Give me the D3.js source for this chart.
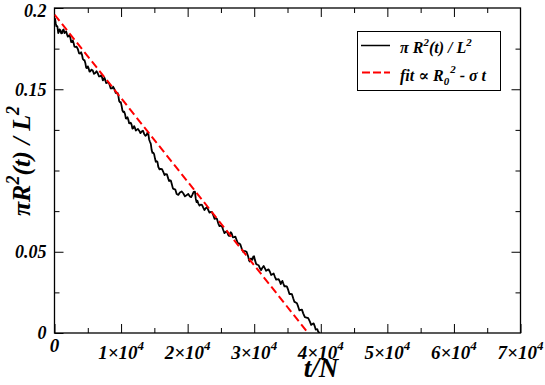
<!DOCTYPE html>
<html><head><meta charset="utf-8">
<script src="https://cdn.jsdelivr.net/npm/d3@7"></script>
<style>
body{margin:0;background:#fff}
svg{display:block}
</style>
</head><body>
<svg id="c" width="545" height="385"></svg>
<script>
// ---- data ----
const tValues = [0,95,190,282,375,438,500,565,630,755,880,1003,1126,1248,1370,1496,1622,1751,1880,2006,2132,2256,2380,2504,2628,2749,2870,2996,3123,3311,3500,3687,3874,4002,4130,4257,4384,4507,4630,4755,4880,5005,5130,5252,5375,5562,5750,5938,6126,6313,6500,6688,6877,7003,7130,7258,7387,7508,7630,7756,7883,8071,8260,8447,8634,8817,9000,9192,9384,9482,9580,9707,9835,9957,10080,10205,10330,10460,10590,10715,10841,10965,11090,11213,11336,11458,11580,11706,11832,11961,12090,12216,12342,12531,12720,12906,13093,13281,13470,13657,13844,13964,14084,14211,14339,14467,14595,14717,14840,14965,15090,15215,15340,15463,15586,15773,15960,16148,16336,16523,16710,16898,17087,17213,17340,17469,17598,17784,17970,18159,18348,18594,18840,19089,19339,19589,19840,20092,20345,20532,20720,20908,21096,21223,21351,21471,21591,21780,21970,22156,22342,22531,22720,22906,23093,23281,23470,23657,23844,24032,24220,24407,24595,24782,24970,25157,25345,25532,25720,25908,26096,26223,26350,26478,26606,26793,26980,27168,27357,27543,27730,27919,28108,28354,28600,28849,29099,29226,29354,29477,29600,29725,29850,29977,30105,30292,30480,30668,30856,31043,31230,31418,31606,31793,31980,32168,32357,32543,32730,32919,33108,33294,33480,33669,33859,33979,34100,34227,34354,34542,34730,34917,35105,35292,35480,35668,35856,36043,36230,36418,36606,36793,36980,37168,37357,37608,37860,38111,38363,38551,38740,38927,39114,39237,39360,39485,39610,39735,39860];
const rValues = [0.1935,0.1932,0.1905,0.1888,0.1890,0.1886,0.1865,0.1845,0.1850,0.1868,0.1862,0.1844,0.1845,0.1864,0.1868,0.1846,0.1850,0.1856,0.1838,0.1824,0.1830,0.1832,0.1818,0.1791,0.1790,0.1800,0.1785,0.1762,0.1760,0.1762,0.1748,0.1721,0.1720,0.1728,0.1712,0.1686,0.1680,0.1679,0.1662,0.1633,0.1630,0.1641,0.1628,0.1609,0.1610,0.1621,0.1615,0.1595,0.1600,0.1611,0.1598,0.1579,0.1580,0.1586,0.1575,0.1555,0.1560,0.1570,0.1556,0.1538,0.1540,0.1543,0.1530,0.1505,0.1505,0.1515,0.1500,0.1478,0.1475,0.1477,0.1462,0.1428,0.1420,0.1421,0.1398,0.1369,0.1360,0.1362,0.1348,0.1321,0.1320,0.1328,0.1312,0.1291,0.1290,0.1294,0.1282,0.1258,0.1260,0.1273,0.1262,0.1246,0.1250,0.1256,0.1245,0.1230,0.1240,0.1245,0.1225,0.1213,0.1220,0.1233,0.1230,0.1191,0.1177,0.1164,0.1126,0.1108,0.1110,0.1101,0.1075,0.1054,0.1058,0.1053,0.1023,0.1007,0.1010,0.1009,0.0992,0.0972,0.0978,0.0976,0.0950,0.0935,0.0940,0.0938,0.0920,0.0890,0.0885,0.0882,0.0855,0.0850,0.0865,0.0871,0.0860,0.0841,0.0848,0.0856,0.0840,0.0836,0.0852,0.0869,0.0870,0.0825,0.0805,0.0814,0.0798,0.0784,0.0790,0.0789,0.0772,0.0757,0.0768,0.0775,0.0757,0.0741,0.0745,0.0744,0.0726,0.0703,0.0705,0.0702,0.0675,0.0658,0.0660,0.0655,0.0634,0.0615,0.0622,0.0625,0.0603,0.0597,0.0610,0.0620,0.0613,0.0589,0.0590,0.0593,0.0572,0.0552,0.0552,0.0545,0.0521,0.0500,0.0505,0.0500,0.0470,0.0445,0.0440,0.0457,0.0458,0.0451,0.0470,0.0472,0.0450,0.0425,0.0420,0.0417,0.0398,0.0387,0.0402,0.0412,0.0398,0.0383,0.0388,0.0391,0.0377,0.0357,0.0362,0.0366,0.0346,0.0328,0.0330,0.0331,0.0316,0.0301,0.0312,0.0321,0.0306,0.0287,0.0288,0.0285,0.0265,0.0240,0.0240,0.0239,0.0214,0.0191,0.0188,0.0183,0.0162,0.0139,0.0142,0.0144,0.0121,0.0098,0.0095,0.0091,0.0070,0.0050,0.0055,0.0059,0.0039,0.0021,0.0022,0.0023,0.0008,0.0004,0.0000];
const fitT = [0, 38100];
const fitR = [0.196, 0];
const xMajor = [0,10000,20000,30000,40000,50000,60000,70000];
const xMinor = [5000,15000,25000,35000,45000,55000,65000];
const xTickMantissa = ["0","1","2","3","4","5","6","7"];
const yMajor = [0,0.05,0.15,0.2];
const yMinor = [0.025,0.075,0.1,0.125,0.175];
const yTickLabels = ["0","0.05","0.15","0.2"];

// ---- layout ----
const FONT = "'Liberation Serif','DejaVu Serif','Times New Roman',serif";
const svg = d3.select("#c");
const L = 54.5, R = 520.5, T = 8, B = 333;
const x = d3.scaleLinear().domain([0,70000]).range([L,R]);
const y = d3.scaleLinear().domain([0,0.2]).range([B,T]);
const MAJ = 9, MIN = 5;

function styleText(sel, size){
  return sel.style("font-family",FONT).style("font-weight","bold").style("font-style","italic")
    .style("font-size",size+"px").attr("fill","#000");
}
function axisG(axis, tx, ty){
  const g = svg.append("g").attr("transform",`translate(${tx},${ty})`).call(axis);
  g.select(".domain").remove();
  g.selectAll(".tick line").attr("stroke","#000").attr("stroke-width",1);
  return g;
}
axisG(d3.axisBottom(x).tickValues(xMajor).tickSize(-MAJ).tickFormat(""),0,B);
axisG(d3.axisBottom(x).tickValues(xMinor).tickSize(-MIN).tickFormat(""),0,B);
axisG(d3.axisTop(x).tickValues(xMajor.slice(1,-1)).tickSize(-MAJ).tickFormat(""),0,T);
axisG(d3.axisTop(x).tickValues(xMinor).tickSize(-MIN).tickFormat(""),0,T);
const yl = axisG(d3.axisLeft(y).tickValues(yMajor).tickSize(-MAJ).tickPadding(8)
  .tickFormat((d,i)=>yTickLabels[i]),L,0);
styleText(yl.selectAll(".tick text"),18);
yl.selectAll(".tick text").filter(d=>d===0.2).attr("dy","0.45em");
axisG(d3.axisLeft(y).tickValues(yMinor).tickSize(-MIN).tickFormat(""),L,0);
axisG(d3.axisRight(y).tickValues(yMajor.slice(1,-1)).tickSize(-MAJ).tickFormat(""),R,0);
axisG(d3.axisRight(y).tickValues(yMinor).tickSize(-MIN).tickFormat(""),R,0);

svg.append("rect").attr("x",L).attr("y",T).attr("width",R-L).attr("height",B-T)
  .attr("fill","none").attr("stroke","#000").attr("stroke-width",1.3);

// x tick labels
xMajor.forEach((v,i)=>{
  const t = styleText(svg.append("text").attr("x",x(v)).attr("text-anchor","middle"),19);
  if(i===0){ t.attr("y",352).text(xTickMantissa[i]); }
  else {
    t.attr("y",359);
    t.append("tspan").text(xTickMantissa[i]+"\u00D710");
    t.append("tspan").attr("dy",-9).style("font-size","13px").text("4");
  }
});

// axis titles
styleText(svg.append("text").attr("x",321).attr("y",377).attr("text-anchor","middle"),27).text("t/N");
const yt = styleText(svg.append("text").attr("transform","translate(30,161) rotate(-90)")
  .attr("text-anchor","middle"),26);
yt.append("tspan").text("\u03C0R");
yt.append("tspan").attr("dy",-11).style("font-size","18px").text("2");
yt.append("tspan").attr("dy",11).text("(t) / L");
yt.append("tspan").attr("dy",-11).style("font-size","18px").text("2");

svg.append("clipPath").attr("id","pc").append("rect").attr("x",L).attr("y",T).attr("width",R-L).attr("height",B-T);

const n = Math.min(tValues.length, rValues.length);
const pts = d3.range(n).map(i=>[tValues[i],rValues[i]]);
const line = d3.line().x(d=>x(d[0])).y(d=>y(d[1]));
svg.append("path").attr("d",line(pts)).attr("fill","none").attr("stroke","#000")
  .attr("stroke-width",1.8).attr("stroke-linejoin","round").attr("clip-path","url(#pc)");
const fpts = fitT.map((t,i)=>[t,fitR[i]]);
svg.append("path").attr("d",line(fpts)).attr("fill","none").attr("stroke","#ff0000")
  .attr("stroke-width",2).attr("stroke-dasharray","8,4").attr("clip-path","url(#pc)");

// legend
svg.append("rect").attr("x",357.5).attr("y",31.5).attr("width",143).attr("height",59)
  .attr("fill","#fff").attr("stroke","#000").attr("stroke-width",1);
svg.append("line").attr("x1",361).attr("x2",390).attr("y1",45.5).attr("y2",45.5)
  .attr("stroke","#000").attr("stroke-width",1.5);
svg.append("line").attr("x1",362).attr("x2",390).attr("y1",72.5).attr("y2",72.5)
  .attr("stroke","#ff0000").attr("stroke-width",2).attr("stroke-dasharray","8,3");
const l1 = styleText(svg.append("text").attr("x",400).attr("y",53),16);
l1.append("tspan").text("\u03C0 R");
l1.append("tspan").attr("dy",-7).style("font-size","11px").text("2");
l1.append("tspan").attr("dy",7).text("(t) / L");
l1.append("tspan").attr("dy",-7).style("font-size","11px").text("2");
const l2 = styleText(svg.append("text").attr("x",400).attr("y",81),16);
l2.append("tspan").text("fit \u221D  R");
l2.append("tspan").attr("dy",4).style("font-size","11px").text("0");
l2.append("tspan").attr("dy",-12).attr("dx",1).style("font-size","11px").text("2");
l2.append("tspan").attr("dy",8).text(" - \u03C3 t");
</script>
</body></html>
